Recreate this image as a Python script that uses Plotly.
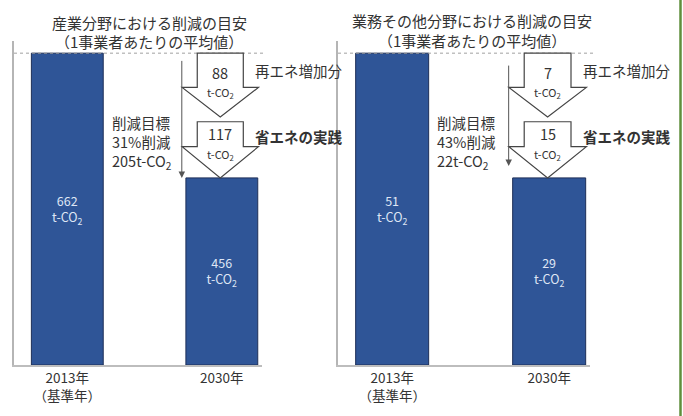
import plotly.graph_objects as go

# ---------------- data ----------------
categories = ["2013年<br>（基準年）", "2030年"]
panel_titles = ["産業分野における削減の目安", "業務その他分野における削減の目安"]
subtitle = "（1事業者あたりの平均値）"

industry_emissions = [662, 456]      # t-CO2
industry_renewable = 88              # 再エネ増加分
industry_saving = 117                # 省エネの実践
industry_cut_pct = 31
industry_cut_total = 205

office_emissions = [51, 29]
office_renewable = 7
office_saving = 15
office_cut_pct = 43
office_cut_total = 22

# relative bar heights as drawn in the schematic (not to scale)
drawn_heights = [100, 60]

# ---------------- layout helpers ----------------
W, H = 683, 416
FONT = "Noto Sans CJK JP"
TXT = "#333333"
BAR = "#2F5597"


def py(y):
    return 1 - y / H


def px(x):
    return x / W


XR = [-0.345, 1.26]
YR = [0, 103.9]
domains = [[px(14), px(262)], [px(338), px(590)]]
ydom = [py(365), py(41)]

panels = [
    dict(vals=industry_emissions, ren=industry_renewable, sav=industry_saving,
         pct=industry_cut_pct, tot=industry_cut_total, title=panel_titles[0],
         tx=149, ty=(22, 42), line=(0.741, 98.0, 60.0)),
    dict(vals=office_emissions, ren=office_renewable, sav=office_saving,
         pct=office_cut_pct, tot=office_cut_total, title=panel_titles[1],
         tx=472, ty=(20, 40), line=(0.742, 96.5, 63.8)),
]

fig = go.Figure()
shapes = []
annotations = []

for i, p in enumerate(panels):
    xa = "x" if i == 0 else "x2"
    ya = "y" if i == 0 else "y2"
    fig.add_trace(go.Bar(
        x=[0, 1], y=drawn_heights, width=0.465,
        xaxis=xa, yaxis=ya,
        marker=dict(color=BAR, line=dict(color="#1e2f57", width=1)),
        text=[f"{v}<br>t-CO<sub>2</sub>" for v in p["vals"]],
        textposition="inside", insidetextanchor="middle", textangle=0,
        textfont=dict(family=FONT, size=12.5, color="#dfe6f5"),
        hoverinfo="skip", showlegend=False,
    ))

    # dotted baseline reference line
    shapes.append(dict(type="line", xref=f"{xa} domain", yref=ya,
                       x0=0, x1=1.012, y0=drawn_heights[0], y1=drawn_heights[0],
                       line=dict(color="#a0a0a0", width=1, dash="dot")))

    # block arrows (schematic)
    cx, s, h = 0.99, 0.149, 0.247
    for top, neck, tip in [(drawn_heights[0], 89.0, 79.5),
                           (78.0, 70.0, drawn_heights[1])]:
        path = (f"M {cx-s},{top} L {cx+s},{top} L {cx+s},{neck} L {cx+h},{neck} "
                f"L {cx},{tip} L {cx-h},{neck} L {cx-s},{neck} Z")
        shapes.append(dict(type="path", xref=xa, yref=ya, path=path,
                           fillcolor="white", line=dict(color="#444444", width=1.2)))

    # arrow labels
    for yv, txt, sz in [(93.9, str(p["ren"]), 14.5), (87.4, "t-CO<sub>2</sub>", 11),
                        (74.3, str(p["sav"]), 14.5), (67.6, "t-CO<sub>2</sub>", 11)]:
        annotations.append(dict(xref=xa, yref=ya, x=cx, y=yv, text=txt,
                                xanchor="center", showarrow=False,
                                font=dict(family=FONT, size=sz, color=TXT)))

    annotations.append(dict(xref=xa, yref=ya, x=1.2, y=94.4, text="再エネ増加分",
                            xanchor="left", showarrow=False,
                            font=dict(family=FONT, size=14.5, color=TXT)))
    annotations.append(dict(xref=xa, yref=ya, x=1.2, y=73.3, text="<b>省エネの実践</b>",
                            xanchor="left", showarrow=False,
                            font=dict(family=FONT, size=14.5, color=TXT)))
    annotations.append(dict(xref=xa, yref=ya, x=0.275, y=71.2,
                            text=f"削減目標<br>{p['pct']}%削減<br>{p['tot']}t-CO<sub>2</sub>",
                            xanchor="left", align="left", showarrow=False,
                            font=dict(family=FONT, size=14.5, color=TXT)))

    # thin target arrow
    lx, ly0, ly1 = p["line"]
    annotations.append(dict(xref=xa, yref=ya, axref=xa, ayref=ya,
                            x=lx, y=ly1, ax=lx, ay=ly0, text="",
                            showarrow=True, arrowhead=2, arrowsize=1.3,
                            arrowwidth=1, arrowcolor="#555555"))

    # titles
    annotations.append(dict(xref="paper", yref="paper", x=px(p["tx"]), y=py(p["ty"][0]),
                            text=p["title"], showarrow=False, xanchor="center", yanchor="middle",
                            font=dict(family=FONT, size=15, color=TXT)))
    annotations.append(dict(xref="paper", yref="paper", x=px(p["tx"]), y=py(p["ty"][1]),
                            text=subtitle, showarrow=False, xanchor="center", yanchor="middle",
                            font=dict(family=FONT, size=15, color=TXT)))

# green frame on the right side
shapes.append(dict(type="line", xref="paper", yref="paper", x0=px(680.5), x1=px(680.5),
                   y0=0, y1=1, line=dict(color="#5f8f3c", width=2.5)))

axis_x = dict(range=XR, tickvals=[0, 1], ticktext=categories, showline=True,
              linecolor="#bdbdbd", linewidth=2, showgrid=False, zeroline=False,
              ticks="", tickfont=dict(family=FONT, size=13.5, color=TXT), fixedrange=True)
axis_y = dict(range=YR, domain=ydom, showline=True, linecolor="#b5b5b5", linewidth=1.5,
              showgrid=False, zeroline=False, showticklabels=False, ticks="", fixedrange=True)

fig.update_layout(
    width=W, height=H, margin=dict(l=0, r=0, t=0, b=0),
    paper_bgcolor="white", plot_bgcolor="white",
    xaxis=dict(axis_x, domain=domains[0], anchor="y"),
    xaxis2=dict(axis_x, domain=domains[1], anchor="y2"),
    yaxis=dict(axis_y, anchor="x"),
    yaxis2=dict(axis_y, anchor="x2"),
    shapes=shapes, annotations=annotations,
    font=dict(family=FONT, color=TXT),
)

fig.write_html("out.html", config={"displayModeBar": False},
               post_script="document.body.style.margin='0';document.body.style.overflow='hidden';")
